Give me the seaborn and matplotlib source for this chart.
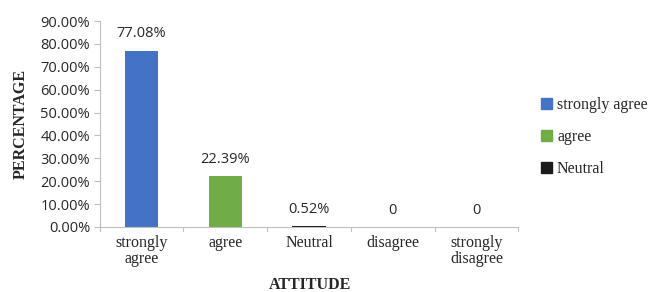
import matplotlib
matplotlib.use("Agg")
import matplotlib.pyplot as plt
import matplotlib.patches as mpatches
import pandas as pd
import seaborn as sns

categorias = ["strongly\nagree", "agree", "Neutral", "disagree", "strongly\ndisagree"]
legenda = ["strongly agree", "agree", "Neutral"]
percentuais = [77.08, 22.39, 0.52, 0.0, 0.0]
rotulos = ["77.08%", "22.39%", "0.52%", "0", "0"]
cores = ["#4472C4", "#70AD47", "#1a1a1a", "#A5A5A5", "#FFC000"]

df = pd.DataFrame({"Atitude": categorias, "Percentual": percentuais})

sns.set_style("white")
plt.rcParams["font.family"] = ["Open Sans", "DejaVu Sans"]

fig = plt.figure(figsize=(6.52, 2.92), dpi=100)
ax = fig.add_axes([0.153, 0.223, 0.642, 0.705])

sns.barplot(
    data=df, x="Atitude", y="Percentual", hue="Atitude",
    palette=cores, width=0.4, linewidth=0, saturation=1,
    legend=False, ax=ax,
)

ax.set_ylim(0, 90)
ax.set_xlim(-0.5, 4.5)
ax.set_yticks(range(0, 91, 10))
ax.set_yticklabels([f"{v:.2f}%" for v in range(0, 91, 10)], fontsize=10.5)
ax.tick_params(axis="y", length=4, width=0.8, color="#bfbfbf", pad=3, left=True)

# ticks nas fronteiras das categorias
ax.set_xticks(range(5))
ax.set_xticklabels(categorias, family="Liberation Serif", fontsize=11.5, linespacing=0.95)
ax.tick_params(axis="x", length=0, pad=6)
for b in [-0.5, 0.5, 1.5, 2.5, 3.5, 4.5]:
    ax.plot([b, b], [0, -1.8], color="#bfbfbf", lw=0.8, clip_on=False)

for s in ["top", "right"]:
    ax.spines[s].set_visible(False)
for s in ["left", "bottom"]:
    ax.spines[s].set_color("#bfbfbf")
    ax.spines[s].set_linewidth(0.8)

for i, (v, t) in enumerate(zip(percentuais, rotulos)):
    ax.text(i, v + 4, t, ha="center", va="bottom", fontsize=10.5)

ax.set_ylabel("PERCENTAGE", family="Liberation Serif", fontweight="bold", fontsize=11.5, labelpad=8)
ax.set_xlabel("")
fig.text(310 / 652, 1 - 285 / 292, "ATTITUDE", ha="center", va="center",
         family="Liberation Serif", fontweight="bold", fontsize=11.5)

handles = [mpatches.Patch(color=c) for c in cores[:3]]
ax.legend(
    handles, legenda, loc="center left", bbox_to_anchor=(1.02, 0.437),
    frameon=False, handlelength=0.7, handleheight=0.7, handletextpad=0.3,
    labelspacing=1.0, prop={"family": "Liberation Serif", "size": 11.5},
)

plt.savefig("out.png", dpi=100)
plt.close()
